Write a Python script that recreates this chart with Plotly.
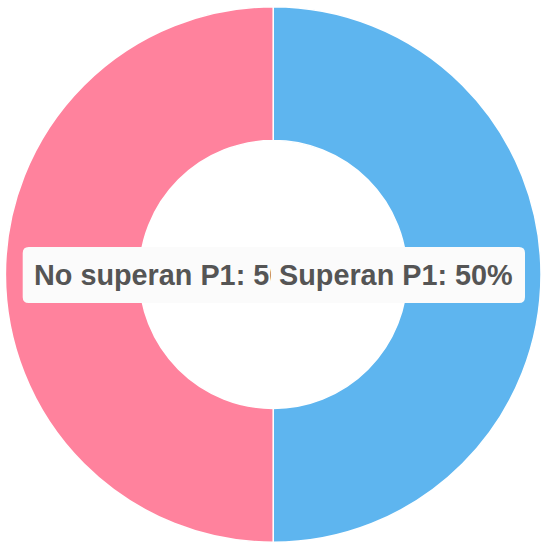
import plotly.graph_objects as go

labels = ["Superan P1", "No superan P1"]
values = [50, 50]
colors = ["#5EB5EF", "#FF829D"]

W, H = 541, 544
total = sum(values)
pct = [f"{l}: {round(v / total * 100)}%" for l, v in zip(labels, values)]


def px(x):
    return x / W


def py(y):
    return (H - y) / H


def rrect(x0, y0, x1, y1, r):
    # rounded rect path in paper coords (pixel inputs, y from top)
    pts = (
        f"M {px(x0 + r)} {py(y0)} L {px(x1 - r)} {py(y0)} "
        f"Q {px(x1)} {py(y0)} {px(x1)} {py(y0 + r)} "
        f"L {px(x1)} {py(y1 - r)} Q {px(x1)} {py(y1)} {px(x1 - r)} {py(y1)} "
        f"L {px(x0 + r)} {py(y1)} Q {px(x0)} {py(y1)} {px(x0)} {py(y1 - r)} "
        f"L {px(x0)} {py(y0 + r)} Q {px(x0)} {py(y0)} {px(x0 + r)} {py(y0)} Z"
    )
    return pts


fig = go.Figure(
    go.Pie(
        labels=labels,
        values=values,
        hole=0.5,
        sort=False,
        direction="clockwise",
        rotation=0,
        marker=dict(colors=colors, line=dict(color="white", width=1.5)),
        textinfo="none",
        hoverinfo="skip",
        showlegend=False,
        domain=dict(x=[0.01, 1.0], y=[1.7 / H, 537.3 / H]),
    )
)

box_fill = "#FBFBFB"
shapes = [
    dict(type="path", xref="paper", yref="paper", path=rrect(22.7, 247, 320, 303, 6),
         fillcolor=box_fill, line=dict(width=0), layer="above"),
    dict(type="path", xref="paper", yref="paper", path=rrect(273, 247, 525, 303, 6),
         fillcolor=box_fill, line=dict(width=0), layer="above"),
]

font = dict(family="Liberation Sans, Arial, Helvetica, sans-serif", size=28.8, color="#555555")
annotations = [
    dict(xref="paper", yref="paper", x=px(33), y=py(275), xanchor="left", yanchor="middle",
         text=f"<b>{pct[1]}</b>", showarrow=False, font=font, width=237, align="left",
         borderpad=0),
    dict(xref="paper", yref="paper", x=px(396), y=py(275), xanchor="center", yanchor="middle",
         text=f"<b>{pct[0]}</b>", showarrow=False, font=font, borderpad=0),
]

fig.update_layout(
    width=W,
    height=H,
    margin=dict(l=0, r=0, t=0, b=0),
    paper_bgcolor="white",
    plot_bgcolor="white",
    shapes=shapes,
    annotations=annotations,
)

fig.write_html(
    "out.html",
    config={"displayModeBar": False},
    post_script="document.body.style.margin='0';document.body.style.overflow='hidden';",
)
